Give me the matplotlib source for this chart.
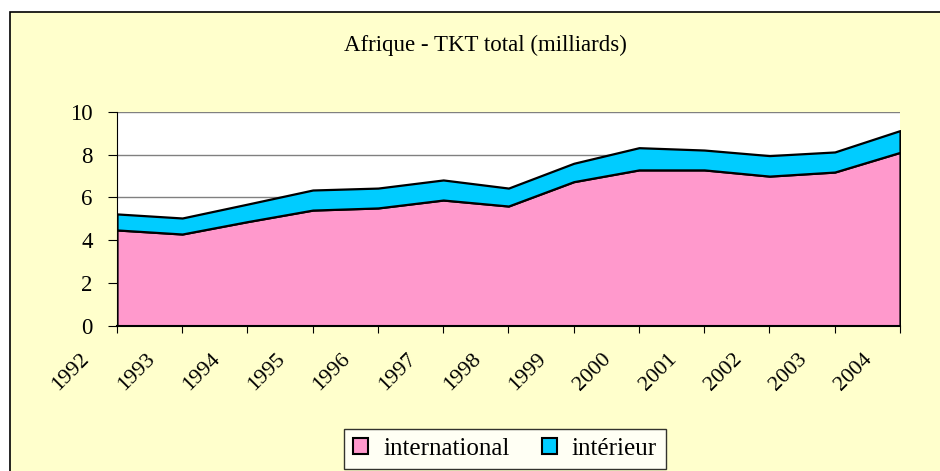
import matplotlib.pyplot as plt
import matplotlib.transforms as mtransforms
from matplotlib.patches import Rectangle

years = [1992, 1993, 1994, 1995, 1996, 1997, 1998, 1999, 2000, 2001, 2002, 2003, 2004]
international = [4.48, 4.29, 4.87, 5.41, 5.51, 5.88, 5.60, 6.74, 7.29, 7.29, 7.00, 7.19, 8.11]
interieur = [0.75, 0.75, 0.82, 0.94, 0.93, 0.94, 0.84, 0.86, 1.04, 0.93, 0.96, 0.94, 1.02]
labels = ['international', 'intérieur']
colors = ['#FF99CC', '#00CCFF']

plt.rcParams['font.family'] = ['Liberation Serif', 'DejaVu Serif']

fig = plt.figure(figsize=(9.4, 4.71), dpi=100)
fig.patch.set_facecolor('white')

# chart area background (Excel style), runs off the right and bottom of the image
fig.patches.append(Rectangle((10 / 940, -0.05), 1.0, 1 - 12 / 471 + 0.05,
                             transform=fig.transFigure, facecolor='#FFFFCC',
                             edgecolor='black', linewidth=1.2, zorder=-10))

ax = fig.add_axes([117 / 940, 1 - 325.7 / 471, (900 - 117) / 940, (325.7 - 112) / 471])
ax.set_facecolor('white')

ax.stackplot(years, international, interieur, colors=colors, labels=labels,
             edgecolor='black', linewidth=1.6, zorder=3)

ax.set_xlim(1992, 2004)
ax.set_ylim(0, 10)
ax.set_yticks([0, 2, 4, 6, 8, 10])
ax.yaxis.grid(True, color='#808080', linewidth=1)
ax.set_axisbelow(True)
for s in ['top', 'right']:
    ax.spines[s].set_visible(False)
ax.spines['left'].set_color('black')
ax.spines['bottom'].set_color('black')
ax.spines['bottom'].set_linewidth(1.5)
ax.spines['bottom'].set_zorder(4)

ax.tick_params(axis='y', direction='out', length=6.5, labelsize=16.5, pad=11)
ax.tick_params(axis='x', direction='out', length=5, labelsize=16)
ax.set_xticks(years)
ax.set_xticklabels([str(y) for y in years], rotation=45, ha='right', va='top',
                   rotation_mode='anchor')
offset = mtransforms.ScaledTranslation(-37 / 100, -12 / 100, fig.dpi_scale_trans)
for lab in ax.get_xticklabels():
    lab.set_transform(lab.get_transform() + offset)

fig.text(485 / 940, 1 - 45 / 471, 'Afrique - TKT total (milliards)', ha='center',
         va='center', fontsize=16.5)

leg = fig.legend(loc='center', bbox_to_anchor=(505 / 940, 1 - 449 / 471), ncol=2,
                 fontsize=18, frameon=True, fancybox=False, edgecolor='black',
                 handlelength=0.6, handleheight=0.6, handletextpad=0.6, columnspacing=1.3,
                 borderpad=0.35, borderaxespad=0)
leg.get_frame().set_linewidth(1)
for h in leg.legend_handles:
    h.set_edgecolor('black')
    h.set_linewidth(1.5)

fig.savefig('out.png', dpi=100)
